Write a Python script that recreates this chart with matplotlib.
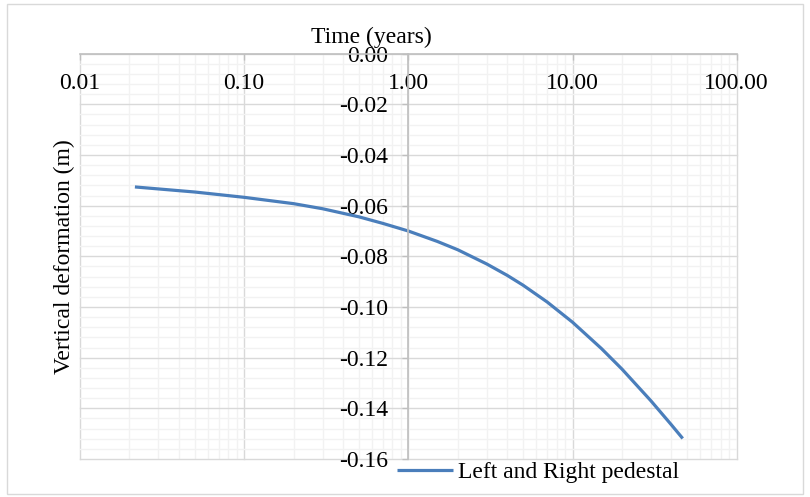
import matplotlib
matplotlib.use("Agg")
import matplotlib.pyplot as plt
from matplotlib.ticker import FixedLocator, FixedFormatter, LogLocator, MultipleLocator, NullFormatter
from matplotlib.patches import Rectangle

# ---- data ----
time_years = [0.0216, 0.05, 0.1, 0.2, 0.3, 0.5, 0.7, 1.0, 1.5, 2.0, 3.0, 4.0, 5.0,
              7.0, 10.0, 15.0, 20.0, 30.0, 40.0, 46.9]
deformation_m = [-0.0526, -0.0546, -0.0567, -0.0592, -0.0612, -0.0644, -0.0670, -0.0700,
                 -0.0741, -0.0774, -0.0830, -0.0875, -0.0914, -0.0980, -0.1060, -0.1164,
                 -0.1245, -0.1370, -0.1465, -0.1519]
series_name = "Left and Right pedestal"
x_ticks = [0.01, 0.1, 1, 10, 100]
x_tick_labels = ["0.01", "0.10", "1.00", "10.00", "100.00"]
y_ticks = [0.0, -0.02, -0.04, -0.06, -0.08, -0.10, -0.12, -0.14, -0.16]
y_tick_labels = ["0.00", "-0.02", "-0.04", "-0.06", "-0.08", "-0.10", "-0.12", "-0.14", "-0.16"]
x_title = "Time (years)"
y_title = "Vertical deformation (m)"

plt.rcParams['font.family'] = ['Liberation Serif', 'DejaVu Serif']
FS = 17

fig = plt.figure(figsize=(8.1, 4.97), dpi=100)
fig.patches.append(Rectangle((7/810, 3/497), 796/810, 490/497, transform=fig.transFigure,
                             fill=False, edgecolor='#D9D9D9', linewidth=1.0))

rect = [80/810, 1 - 459/497, 656.7/810, (459 - 53.7)/497]


def setup_scales(a):
    a.set_xscale('log')
    a.set_xlim(0.01, 100)
    a.set_ylim(-0.16, 0.0)
    a.xaxis.set_major_locator(FixedLocator(x_ticks))
    a.xaxis.set_major_formatter(FixedFormatter(x_tick_labels))
    a.xaxis.set_minor_locator(LogLocator(base=10, subs=range(2, 10)))
    a.xaxis.set_minor_formatter(NullFormatter())
    a.yaxis.set_major_locator(FixedLocator(y_ticks))
    a.yaxis.set_major_formatter(FixedFormatter(y_tick_labels))
    a.yaxis.set_minor_locator(MultipleLocator(0.004))


# background axes: gridlines only
ax_bg = fig.add_axes(rect, zorder=0)
setup_scales(ax_bg)
ax_bg.grid(which='minor', color='#F2F2F2', linewidth=1.0)
ax_bg.grid(which='major', color='#D9D9D9', linewidth=1.0)
for ln in ax_bg.get_xgridlines() + ax_bg.get_ygridlines():
    ln.set_clip_on(False)
for s in ax_bg.spines.values():
    s.set_visible(False)
ax_bg.tick_params(which='both', length=0, labelbottom=False, labelleft=False,
                  labeltop=False, labelright=False)

# foreground axes: axis lines, labels, data
ax = fig.add_axes(rect, zorder=1)
setup_scales(ax)
ax.patch.set_visible(False)
ax.grid(False)

ax.plot(time_years, deformation_m, color='#4A7EBB', linewidth=2.3, label=series_name,
        solid_joinstyle='round', solid_capstyle='butt')

for s in ['bottom', 'right']:
    ax.spines[s].set_visible(False)
ax.spines['top'].set_color('#BFBFBF')
ax.spines['top'].set_linewidth(1.2)
ax.spines['left'].set_position(('data', 1.0))
ax.spines['left'].set_color('#BFBFBF')
ax.spines['left'].set_linewidth(1.2)

ax.tick_params(axis='x', which='major', top=True, bottom=False, labeltop=True, labelbottom=False,
               direction='in', length=4.5, width=1.0, color='#BFBFBF', pad=-29, labelsize=FS)
ax.tick_params(axis='x', which='minor', top=False, bottom=False)
ax.tick_params(axis='y', which='major', left=True, right=False, direction='out', length=4,
               width=1.0, color='#BFBFBF', pad=10.5, labelsize=FS)
ax.tick_params(axis='y', which='minor', left=False, right=False)

fig.text(371.7/810, 1 - 37/497, x_title, ha='center', va='center', fontsize=FS)
fig.text(64/810, 1 - 257/497, y_title, ha='center', va='center', rotation=90, fontsize=FS)

fig.legend(loc='center', bbox_to_anchor=(538/810, 1 - 472/497), frameon=False, fontsize=FS,
           handlelength=2.35, handletextpad=0.2, borderpad=0, borderaxespad=0)

fig.savefig('out.png', dpi=100)
